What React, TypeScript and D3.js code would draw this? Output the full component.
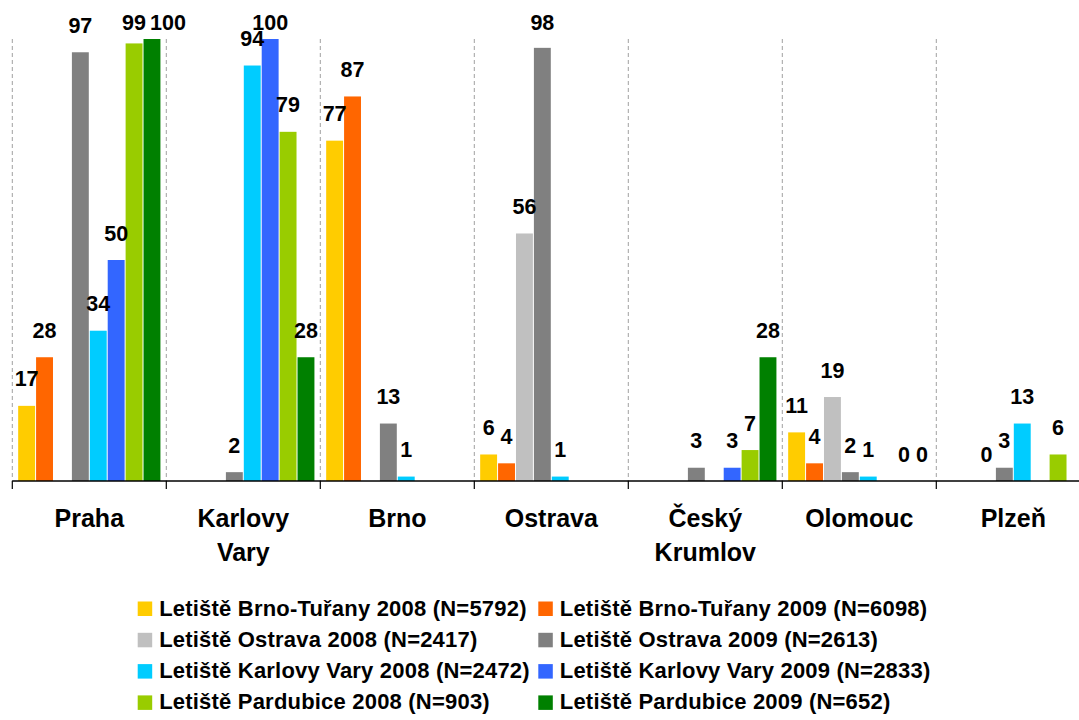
import React from "react";
import * as d3 from "d3";

const categories = ["Praha", "Karlovy Vary", "Brno", "Ostrava", "Český Krumlov", "Olomouc", "Plzeň"];

const seriesNames = [
  "Letiště Brno-Tuřany 2008 (N=5792)",
  "Letiště Brno-Tuřany 2009 (N=6098)",
  "Letiště Ostrava 2008 (N=2417)",
  "Letiště Ostrava 2009 (N=2613)",
  "Letiště Karlovy Vary 2008 (N=2472)",
  "Letiště Karlovy Vary 2009 (N=2833)",
  "Letiště Pardubice 2008 (N=903)",
  "Letiště Pardubice 2009 (N=652)",
];

const seriesColors = ["#FFCC00", "#FF6600", "#C0C0C0", "#808080", "#00CCFF", "#3366FF", "#99CC00", "#008000"];

// values per series, one entry per category (null = no bar)
const brnoTurany2008 = [17, null, 77, 6, null, 11, null];
const brnoTurany2009 = [28, null, 87, 4, null, 4, null];
const ostrava2008 = [null, null, null, 56, null, 19, 0];
const ostrava2009 = [97, 2, 13, 98, 3, 2, 3];
const karlovyVary2008 = [34, 94, 1, 1, null, 1, 13];
const karlovyVary2009 = [50, 100, null, null, 3, null, null];
const pardubice2008 = [99, 79, null, null, 7, 0, 6];
const pardubice2009 = [100, 28, null, null, 28, 0, null];

const seriesValues = [
  brnoTurany2008, brnoTurany2009, ostrava2008, ostrava2009,
  karlovyVary2008, karlovyVary2009, pardubice2008, pardubice2009,
];

const W = 1079;
const H = 720;
const FONT = "Arial, 'Liberation Sans', Helvetica, sans-serif";

export default function App() {
  const x0 = d3.scaleBand<string>().domain(categories).range([12.3, 1090.3]).paddingInner(0).paddingOuter(0);
  const x1 = d3.scaleBand<number>().domain(d3.range(seriesNames.length)).range([0, x0.bandwidth()]).paddingInner(0).paddingOuter(0.3);
  const y = d3.scaleLinear().domain([0, 100]).range([481, 39]);

  const labelSize = 21.5;
  const capH = labelSize * 0.716;
  const charW = labelSize * 0.556;

  // compute labels with simple collision avoidance per category
  const labels: { x: number; y: number; text: string; key: string }[] = [];
  categories.forEach((c, ci) => {
    let prev: { right: number; base: number } | null = null;
    seriesValues.forEach((vals, si) => {
      const v = vals[ci];
      if (v === null || v === undefined) return;
      const cx = (x0(c) as number) + (x1(si) as number) + x1.bandwidth() / 2;
      const base = Math.max(y(v) - 19.5, 30);
      const text = String(v);
      const w = text.length * charW;
      let left = cx - w / 2;
      if (prev && Math.abs(prev.base - base) < capH && left < prev.right + 4) {
        left = prev.right + 4;
      }
      labels.push({ x: left + w / 2, y: base, text, key: `${ci}-${si}` });
      prev = { right: left + w, base };
    });
  });

  const boundaries = [...categories.map((c) => x0(c) as number), (x0(categories[categories.length - 1]) as number) + x0.bandwidth()];

  const legendCols = [137.7, 538.3];
  const legendRows = [601.5, 632.8, 664.1, 695.4];

  return (
    <div style={{ position: "absolute", left: 0, top: 0 }}>
      <svg width={W} height={H} style={{ display: "block", background: "#fff" }} fontFamily={FONT}>
        <rect x={0} y={0} width={W} height={H} fill="#fff" />
        {boundaries.map((b, i) => (
          <line key={`g${i}`} x1={b} x2={b} y1={y(100)} y2={y(0)} stroke="#A0A0A0" strokeWidth={1} strokeDasharray="4,3" />
        ))}
        {categories.map((c, ci) => (
          <g key={c}>
            {seriesValues.map((vals, si) => {
              const v = vals[ci];
              if (v === null || v === undefined || v === 0) return null;
              return (
                <rect
                  key={si}
                  x={(x0(c) as number) + (x1(si) as number) + 0.5}
                  y={y(v)}
                  width={x1.bandwidth() - 1}
                  height={y(0) - y(v)}
                  fill={seriesColors[si]}
                />
              );
            })}
          </g>
        ))}
        <line x1={boundaries[0]} x2={W} y1={y(0)} y2={y(0)} stroke="#000" strokeWidth={1.5} />
        {boundaries.map((b, i) => (
          <line key={`t${i}`} x1={b} x2={b} y1={y(0)} y2={y(0) + 8} stroke="#000" strokeWidth={1.2} />
        ))}
        {labels.map((l) => (
          <text key={l.key} x={l.x} y={l.y} textAnchor="middle" fontSize={labelSize} fontWeight="bold" fill="#000">
            {l.text}
          </text>
        ))}
        {categories.map((c) => {
          const cx = (x0(c) as number) + x0.bandwidth() / 2;
          const lines = c.split(" ");
          return (
            <text key={`c${c}`} textAnchor="middle" fontSize={25} fontWeight="bold" fill="#000">
              {lines.map((ln, i) => (
                <tspan key={i} x={cx} y={527 + i * 34}>
                  {ln}
                </tspan>
              ))}
            </text>
          );
        })}
        {seriesNames.map((name, si) => {
          const col = si % 2;
          const row = Math.floor(si / 2);
          const lx = legendCols[col];
          const ly = legendRows[row];
          return (
            <g key={`l${si}`}>
              <rect x={lx} y={ly} width={14.5} height={14.5} fill={seriesColors[si]} />
              <text x={lx + 21.5} y={ly + 14} fontSize={22} fontWeight="bold" fill="#000" letterSpacing={0.2}>
                {name}
              </text>
            </g>
          );
        })}
      </svg>
    </div>
  );
}
